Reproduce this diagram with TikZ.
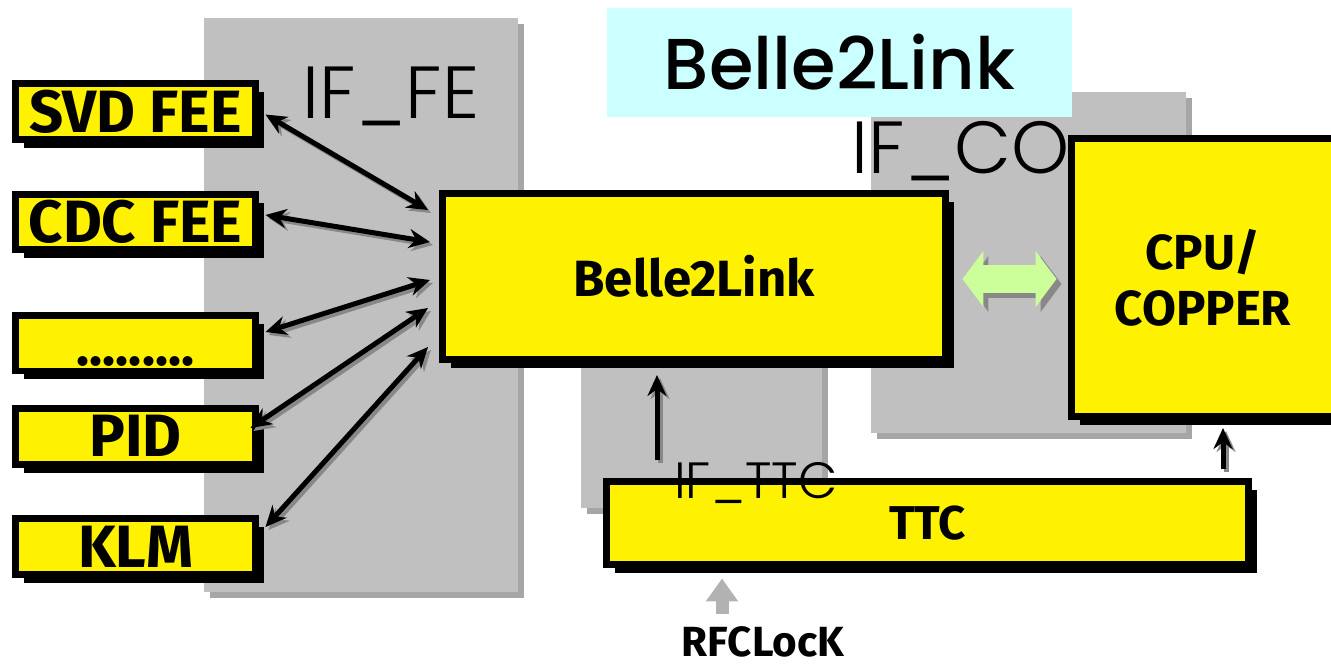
\documentclass[tikz,border=0pt]{standalone}
\usepackage{fontspec}
\setmainfont{Fira Sans}
\newfontfamily\gothic{Poppins Medium}
\newfontfamily\gothiclight{Poppins Light}
\usetikzlibrary{arrows.meta,calc,shadows}
\definecolor{panelgrey}{RGB}{192,192,192}
\definecolor{panelshade}{RGB}{166,166,166}
\definecolor{titlecyan}{RGB}{204,255,255}
\definecolor{linkgreen}{RGB}{204,255,153}
\definecolor{arrowshade}{RGB}{136,136,136}
\definecolor{clockgrey}{RGB}{178,178,178}

\begin{document}
\begin{tikzpicture}[x=0.02cm, y=-0.02cm,
  box/.style={draw=black, line width=0.14cm, fill=yellow, inner sep=0pt,
    drop shadow={shadow xshift=0.17cm, shadow yshift=-0.17cm, fill=black, opacity=1}},
  fee/.style={box, minimum width=4.8cm, minimum height=1.12cm,
    font=\bfseries\fontsize{34}{38}\selectfont},
  iflabel/.style={font=\gothiclight\fontsize{42}{46}\selectfont, inner sep=0pt, anchor=base},
  link/.style={line width=0.1cm,
    {Stealth[length=0.42cm,width=0.38cm]}-{Stealth[length=0.42cm,width=0.38cm]}},
  uplink/.style={line width=0.1cm, -{Stealth[length=0.42cm,width=0.38cm]}},
  bus/.style={draw=linkgreen, line width=0.56cm,
    {Triangle[length=0.42cm,width=1.1cm]}-{Triangle[length=0.42cm,width=1.1cm]}},
  clock/.style={draw=clockgrey, line width=0.26cm, -{Triangle[length=0.46cm,width=0.62cm]}},
  shade/.style={draw=arrowshade, transform canvas={shift={(#1,#1)}}},
  shade/.default=3
]
\useasboundingbox (0,0) rectangle (1331,666);

% interface panels
\foreach \xa/\ya/\xb/\yb in {204/18/518/592, 581/330/822/508, 871/92/1186/433}{
  \fill[panelshade] (\xa+6,\ya+6) rectangle (\xb+6,\yb+6);
  \fill[panelgrey] (\xa,\ya) rectangle (\xb,\yb);
}

\node[fill=titlecyan, minimum width=9.3cm, minimum height=2.18cm, inner sep=0pt,
  font=\gothic\fontsize{41}{45}\selectfont] (title) at (839.5,62.5) {Belle2Link};

\node[iflabel] (iffe) at (391,118) {IF\_FE};
\node[iflabel] (ifco) at (961,173) {IF\_CO};

% front-end boxes
\node[fee] (svd) at (135.5,111.5) {SVD FEE};
\node[fee] (cdc) at (135.5,222) {CDC FEE};
\node[fee, font=\bfseries\fontsize{31}{34}\selectfont, text height=0.88cm, text depth=0pt]
  (more) at (135.5,343) {.........};
\node[fee] (pid) at (135.5,436) {PID};
\node[fee] (klm) at (135.5,546.5) {KLM};

\node[box, minimum width=10.06cm, minimum height=3.32cm,
  font=\bfseries\fontsize{29}{32}\selectfont] (b2l) at (694,276.5) {Belle2Link};
\node[box, minimum width=5.26cm, minimum height=5.56cm, align=center,
  font=\bfseries\fontsize{28}{32}\selectfont] (cpu) at (1203,277.5) {CPU/\\COPPER};
\node[box, minimum width=12.84cm, minimum height=1.66cm,
  font=\bfseries\fontsize{27}{30}\selectfont] (ttc) at (927.5,523) {TTC};
\node[inner sep=0pt, font=\bfseries\fontsize{24}{27}\selectfont] (rfc) at (763,642) {RFCLocK};

% links into Belle2Link
\coordinate (in1) at (428,210);
\coordinate (in2) at (430,242);
\coordinate (in3) at (430,280);
\coordinate (in4) at (428,308);
\coordinate (in5) at (428,347);
\foreach \src/\dx/\dy/\dst in {svd/6.5/3/in1, cdc/6.5/-7/in2, more/6.5/-11/in3,
                                pid/-8.5/-8/in4, klm/6.5/-19.5/in5}{
  \draw[link, shade] ($(\src.east)+(\dx,\dy)$) -- (\dst);
  \draw[link] ($(\src.east)+(\dx,\dy)$) -- (\dst);
}

% TTC distribution
\coordinate (tap1) at (657,0);
\coordinate (tap2) at (1223,0);
\coordinate (tap3) at (722,0);
\draw[uplink, shade] ($(ttc.north -| tap1)+(0,-18)$) -- ($(b2l.south -| tap1)+(0,12)$);
\draw[uplink] ($(ttc.north -| tap1)+(0,-18)$) -- ($(b2l.south -| tap1)+(0,12)$);
\draw[uplink, shade] ($(ttc.north -| tap2)+(0,-9)$) -- ($(cpu.south -| tap2)+(0,8)$);
\draw[uplink] ($(ttc.north -| tap2)+(0,-9)$) -- ($(cpu.south -| tap2)+(0,8)$);
\draw[clock] ($(rfc.north -| tap3)+(0,-12)$) -- ($(ttc.south -| tap3)+(0,10.5)$);

% Belle2Link <-> COPPER
\draw[bus, shade=5] ($(b2l.east)+(13.5,2.5)$) -- ($(b2l.east -| cpu.west)+(-11.5,2.5)$);
\draw[bus] ($(b2l.east)+(13.5,2.5)$) -- ($(b2l.east -| cpu.west)+(-11.5,2.5)$);

\node[iflabel, font=\gothiclight\fontsize{29}{32}\selectfont] (ifttc) at (756,498) {IF\_TTC};
\end{tikzpicture}
\end{document}
